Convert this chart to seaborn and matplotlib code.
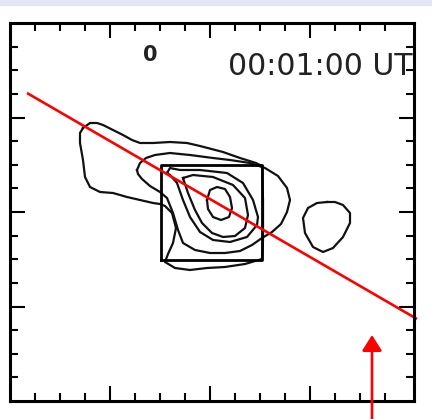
import numpy as np
import pandas as pd
import seaborn as sns
import matplotlib
matplotlib.use("Agg")
import matplotlib.pyplot as plt
from matplotlib.patches import Rectangle

# ---- data (map units: x to the right, y upward) ----
c1_x = [73, 80, 87, 93, 103, 113, 122, 130, 143, 160, 177, 190, 213, 230, 246, 252, 253, 253, 252, 235, 215, 197, 180, 165, 155, 158, 163, 166, 162, 155, 150, 143, 130, 117, 103, 90, 80, 75, 73, 70, 70, 73]
c1_y = [273, 278, 278, 276, 271, 266, 261, 258, 258, 259, 258, 255, 249, 243, 238, 235, 201, 161, 142, 137, 134, 133, 131, 133, 139, 147, 158, 173, 188, 195, 197, 198, 201, 204, 208, 209, 214, 224, 241, 258, 268, 273]
c2_x = [127, 130, 136, 145, 160, 180, 203, 220, 240, 255, 268, 277, 280, 277, 271, 262, 252, 242, 230, 215, 200, 185, 173, 168, 163, 157, 150, 140, 132, 128, 127]
c2_y = [231, 238, 243, 246, 248, 246, 243, 241, 238, 233, 225, 213, 201, 189, 177, 169, 163, 156, 150, 148, 148, 151, 158, 171, 188, 203, 209, 215, 222, 227, 231]
c3_x = [157, 160, 170, 190, 217, 233, 243, 248, 247, 237, 220, 203, 190, 180, 173, 167, 160, 157]
c3_y = [228, 233, 231, 231, 228, 218, 201, 184, 176, 164, 159, 161, 169, 184, 201, 218, 226, 228]
c4_x = [173, 183, 203, 223, 235, 238, 235, 225, 213, 202, 192, 185, 178, 173]
c4_y = [223, 226, 224, 216, 203, 186, 173, 165, 164, 168, 178, 191, 208, 223]
c5_x = [197, 200, 207, 215, 220, 222, 219, 211, 203, 198, 197]
c5_y = [201, 211, 214, 212, 204, 193, 184, 181, 184, 192, 201]
c6_x = [317, 307, 298, 293, 295, 303, 313, 323, 333, 340, 340, 333, 325, 317]
c6_y = [199, 198, 193, 183, 168, 154, 149, 153, 164, 178, 188, 196, 199, 199]

box_x = [151, 252]
box_y = [141, 236]

slit_x = [17, 407]
slit_y = [308, 82]

arrow_x = 362
arrow_tail_y = -20
arrow_tip_y = 66

panel_label = "0"
time_label = "00:01:00 UT"

# ---- figure ----
fig = plt.figure(figsize=(4.32, 4.19), dpi=100)
ax = fig.add_axes([10 / 432, 18 / 419, 404 / 432, 378 / 419])

rows = []
for i, (xs, ys) in enumerate([(c1_x, c1_y), (c2_x, c2_y), (c3_x, c3_y),
                              (c4_x, c4_y), (c5_x, c5_y), (c6_x, c6_y)]):
    for j, (xx, yy) in enumerate(zip(xs, ys)):
        rows.append({"contour": i, "order": j, "x": xx, "y": yy})
df = pd.DataFrame(rows)
sns.lineplot(data=df, x="x", y="y", units="contour", estimator=None,
             sort=False, color="#111111", lw=1.6, ax=ax, legend=False,
             solid_joinstyle="round")

# field-of-view box
bx = [box_x[0], box_x[1], box_x[1], box_x[0], box_x[0]]
by = [box_y[0], box_y[0], box_y[1], box_y[1], box_y[0]]
sns.lineplot(x=bx, y=by, sort=False, estimator=None, color="black", lw=2.0, ax=ax)

# slit line
ax.plot(slit_x, slit_y, color="red", lw=1.9, clip_on=False, solid_capstyle="butt")

# arrow
ax.annotate("", xy=(arrow_x, arrow_tip_y), xytext=(arrow_x, arrow_tail_y),
            arrowprops=dict(arrowstyle="-|>,head_length=0.95,head_width=0.6",
                            color="red", lw=1.9, mutation_scale=10,
                            shrinkA=0, shrinkB=0),
            annotation_clip=False)

ax.text(140, 340, panel_label, fontsize=15, color="#222222", ha="center",
        va="baseline", fontweight="bold")
ax.text(403, 326, time_label, fontsize=21.5, color="#222222", ha="right",
        va="baseline", family="DejaVu Sans")

ax.set_xlim(0, 404)
ax.set_ylim(0, 378)
ax.set_xlabel("")
ax.set_ylabel("")

xmin = [25 * k for k in range(1, 16)]
xmaj = [100, 200, 300]
ymin = [23.625 * k for k in range(1, 16)]
ymaj = [94.5, 189, 283.5]
ax.set_xticks(xmaj)
ax.set_xticks(xmin, minor=True)
ax.set_yticks(ymaj)
ax.set_yticks(ymin, minor=True)
ax.tick_params(which="both", direction="in", top=True, right=True,
               labelbottom=False, labelleft=False, width=1.5, color="black")
ax.tick_params(which="major", length=11)
ax.tick_params(which="minor", length=6)
for s in ax.spines.values():
    s.set_linewidth(2.2)
    s.set_color("black")

fig.patches.append(Rectangle((0, 414 / 419), 1, 5 / 419, transform=fig.transFigure,
                             color="#e3e5f5", zorder=-1))

fig.savefig("out.png", dpi=100)
